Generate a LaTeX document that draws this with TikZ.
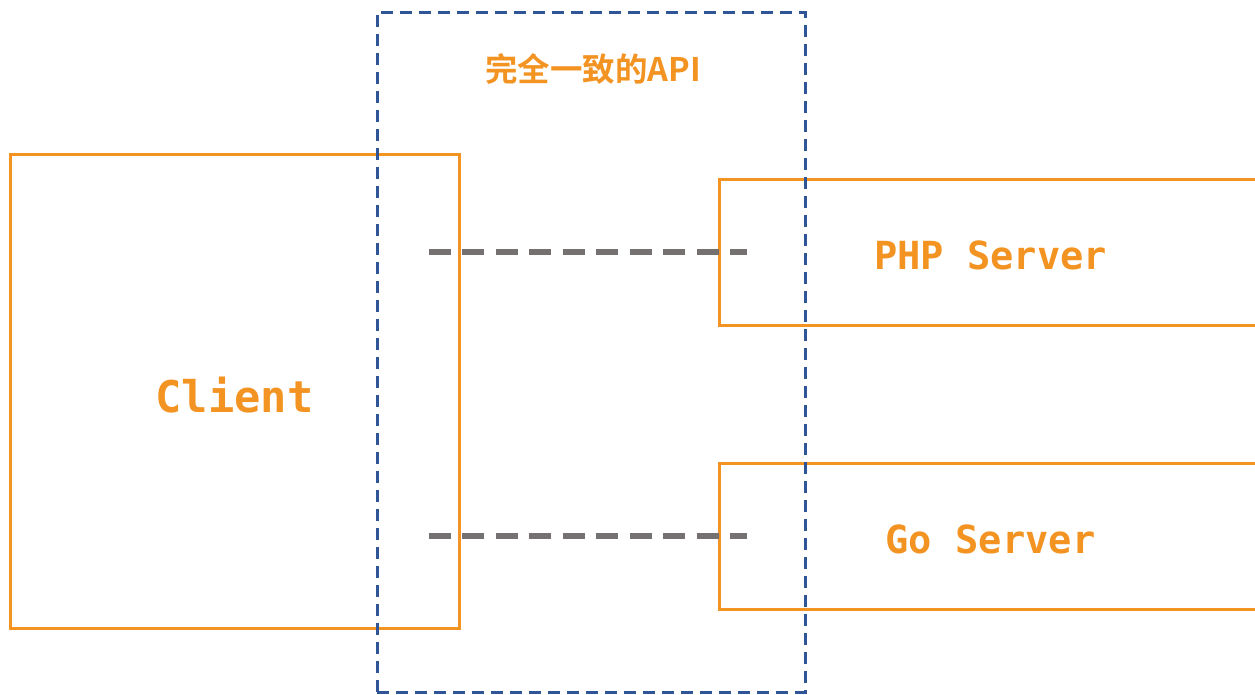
\documentclass[tikz,border=0pt]{standalone}
\usepackage{fontspec}
\newfontfamily\cjkbold{Noto Sans CJK SC Bold}
\newfontfamily\monobold{DejaVu Sans Mono Bold}
\definecolor{accent}{HTML}{F39322}
\definecolor{apiblue}{HTML}{2F5597}
\definecolor{linkgray}{HTML}{767171}
\newcommand{\lowered}[2]{\raisebox{-#1}[\height][\depth]{#2}}
\tikzset{
  box/.style={draw=accent, line width=3pt, rectangle, inner sep=0pt, text=accent},
  apibox/.style={draw=apiblue, line width=3pt, rectangle, inner sep=0pt,
    dash pattern=on 12pt off 7pt},
  link/.style={draw=linkgray, line width=6pt, dash pattern=on 22pt off 11.5pt},
  boxlabel/.style={font=\monobold\fontsize{38.7}{40}\selectfont}
}
\begin{document}
\begin{tikzpicture}[x=1pt, y=-1pt]
  \useasboundingbox (0,0) rectangle (1255,694);
  % client and the two servers
  \node[box, minimum width=449pt, minimum height=474pt,
        font=\monobold\fontsize{43.7}{45}\selectfont] (client) at (234.5,391) {\lowered{4pt}{Client}};
  \node[box, boxlabel, minimum width=543pt, minimum height=146pt] (php) at (990.5,252) {\lowered{3pt}{PHP Server}};
  \node[box, boxlabel, minimum width=543pt, minimum height=146pt] (go) at (990.5,536) {\lowered{3pt}{Go Server}};
  % shared API boundary
  \node[apibox, minimum width=428pt, minimum height=680pt] (api) at (591,352) {};
  \node[text=accent, font=\cjkbold\fontsize{32.5}{34}\selectfont] (title) at (593,69) {完全一致的API};
  % API links
  \draw[link] ([xshift=-289pt]php.west) -- ([xshift=29pt]php.west);
  \draw[link] ([xshift=-289pt]go.west) -- ([xshift=29pt]go.west);
\end{tikzpicture}
\end{document}
